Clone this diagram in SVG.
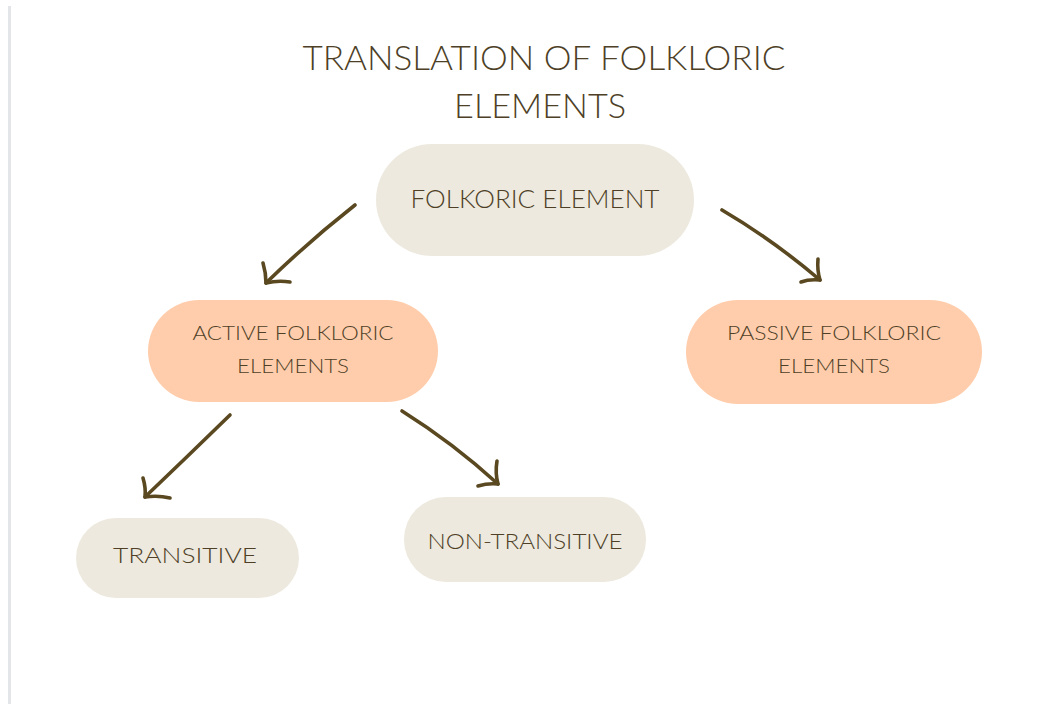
<svg xmlns="http://www.w3.org/2000/svg" width="1051" height="704" viewBox="0 0 1051 704">
  <defs>
    <style>
      .bg { fill: #ffffff; }
      .edge { fill: #e4e5e8; }
      .beige { fill: #ede9de; }
      .peach { fill: #ffcdab; }
      .label { font-family: "Lato", "Open Sans", "Liberation Sans", sans-serif; fill: #4e3f27; text-anchor: middle; font-weight: 300; }
      .title { font-size: 33px; }
      .big { font-size: 25px; }
      .mid { font-size: 20px; }
      .sm { font-size: 22px; }
      .arrow { fill: none; stroke: #5a4821; stroke-width: 3.6; stroke-linecap: round; stroke-linejoin: round; }
    </style>
  </defs>

  <rect class="bg" x="0" y="0" width="1051" height="704"/>
  <rect class="edge" x="8" y="6" width="3" height="698"/>

  <g id="title">
    <text class="label title" x="544" y="70" textLength="483" lengthAdjust="spacingAndGlyphs">TRANSLATION OF FOLKLORIC</text>
    <text class="label title" x="540" y="118" textLength="172" lengthAdjust="spacingAndGlyphs">ELEMENTS</text>
  </g>

  <g id="folkoric-element">
    <rect class="beige" x="376" y="144" width="318" height="112" rx="56"/>
    <text class="label big" x="535" y="208" textLength="249" lengthAdjust="spacingAndGlyphs">FOLKORIC ELEMENT</text>
  </g>

  <g id="active-folkloric-elements">
    <rect class="peach" x="148" y="300" width="290" height="102" rx="51"/>
    <text class="label mid" x="293" y="340" textLength="201" lengthAdjust="spacingAndGlyphs">ACTIVE FOLKLORIC</text>
    <text class="label mid" x="293" y="373" textLength="112" lengthAdjust="spacingAndGlyphs">ELEMENTS</text>
  </g>

  <g id="passive-folkloric-elements">
    <rect class="peach" x="686" y="300" width="296" height="104" rx="52"/>
    <text class="label mid" x="834" y="340" textLength="214" lengthAdjust="spacingAndGlyphs">PASSIVE FOLKLORIC</text>
    <text class="label mid" x="834" y="373" textLength="112" lengthAdjust="spacingAndGlyphs">ELEMENTS</text>
  </g>

  <g id="transitive">
    <rect class="beige" x="76" y="518" width="223" height="80" rx="40"/>
    <text class="label sm" x="185" y="563" textLength="144" lengthAdjust="spacingAndGlyphs">TRANSITIVE</text>
  </g>

  <g id="non-transitive">
    <rect class="beige" x="404" y="497" width="242" height="85" rx="42"/>
    <text class="label sm" x="525" y="549" textLength="195" lengthAdjust="spacingAndGlyphs">NON-TRANSITIVE</text>
  </g>

  <g id="connectors">
    <!-- folkoric element to active -->
    <path class="arrow" d="M355,205 Q308,242 266,283"/>
    <path class="arrow" d="M263,263 Q266,273 266,283 Q278,280 290,282"/>
    <!-- folkoric element to passive -->
    <path class="arrow" d="M722,210 Q773,240 820,280"/>
    <path class="arrow" d="M818,259 Q817,270 820,280 Q809,279 801,282"/>
    <!-- active to transitive -->
    <path class="arrow" d="M230,415 Q188,456 145,497"/>
    <path class="arrow" d="M143,478 Q146,488 145,497 Q158,495 170,498"/>
    <!-- active to non-transitive -->
    <path class="arrow" d="M402,411 Q453,443 498,484"/>
    <path class="arrow" d="M497,461 Q495,473 498,484 Q488,483 478,486"/>
  </g>
</svg>
